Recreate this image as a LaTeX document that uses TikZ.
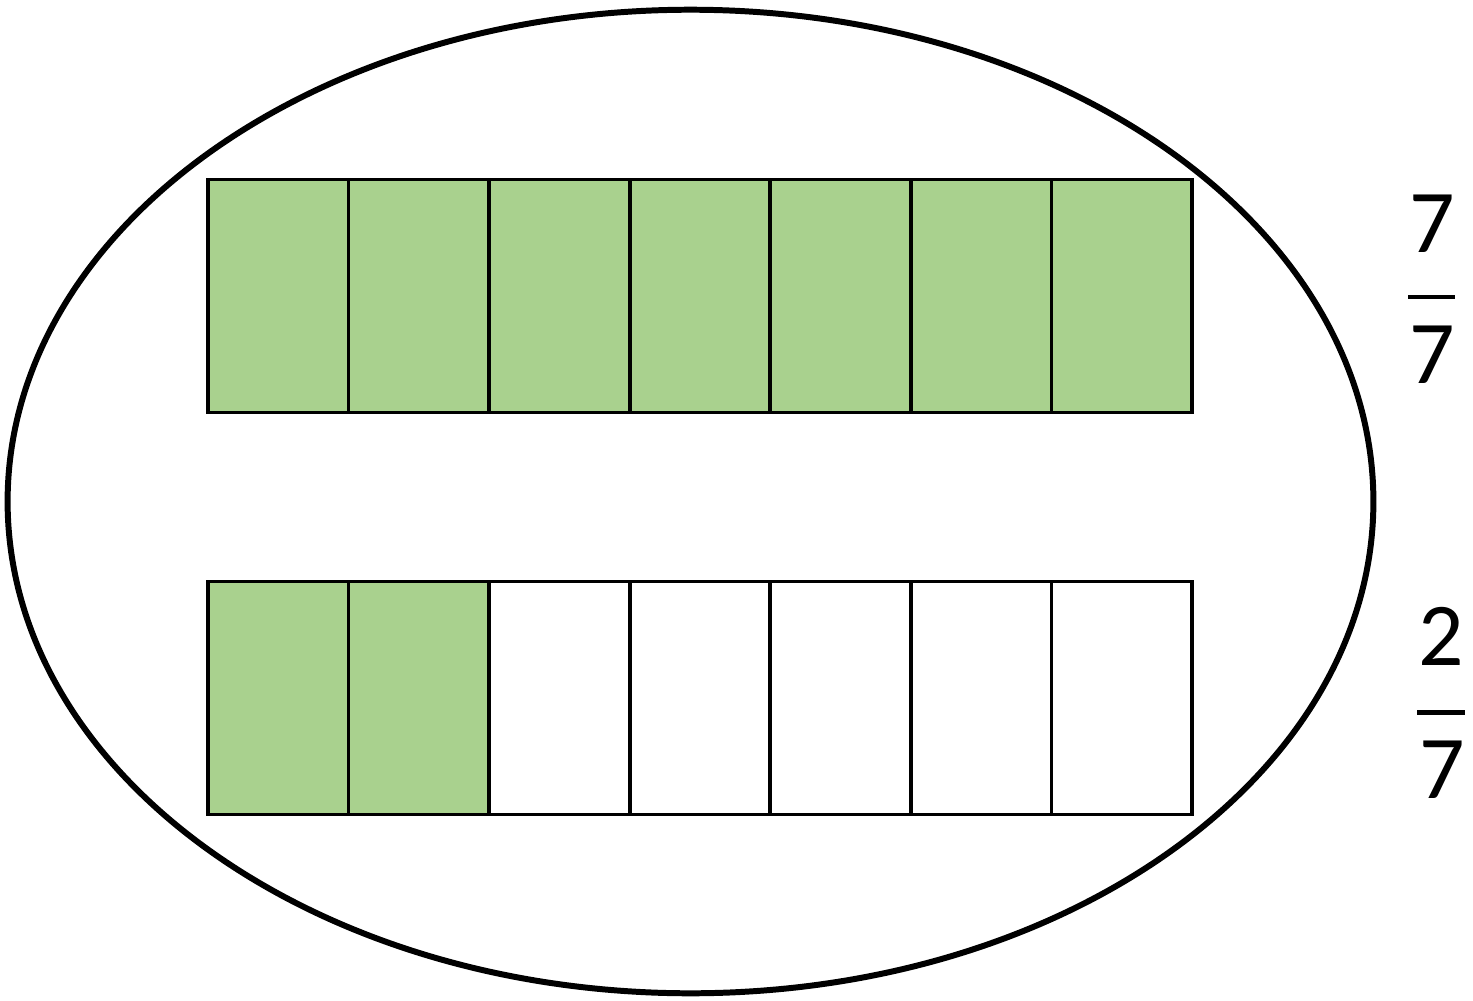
\documentclass[tikz,border=0pt]{standalone}
\usepackage{fontspec}
\setmainfont{Carlito}
\usepackage{tikz}
\usetikzlibrary{
  positioning,
  shapes.geometric
}
\definecolor{barfill}{RGB}{169,209,142}
\definecolor{inkline}{RGB}{0,0,0}
\tikzset{
  cell/.style={draw=inkline,line width=1.05pt,minimum width=1.4057cm,
    minimum height=2.33cm,inner sep=0pt,outer sep=0pt},
  digit/.style={inner sep=0pt,text depth=0pt,
    font=\fontsize{25.5}{30}\selectfont}
}
\newcommand{\fracbar}[3]{%
  \draw[inkline,line width=1.4pt] (#1,#3) -- (#2,#3);%
}

\begin{document}
\begin{tikzpicture}[x=0.01cm,y=-0.01cm]
  \useasboundingbox (0,0) rectangle (1473,1000);
  \draw[inkline,line width=1.7pt] (690.5,501.5) ellipse [x radius=6.825cm, y radius=4.915cm];
  % whole
  \foreach \i in {1,...,7} {
    \node[cell,fill=barfill] (t\i) at ({208+(\i-0.5)*140.57},296) {};
  }
  % part
  \foreach \i in {1,...,7} {
    \ifnum\i<3
      \node[cell,fill=barfill] (b\i) at ({208+(\i-0.5)*140.57},698) {};
    \else
      \node[cell,fill=white] (b\i) at ({208+(\i-0.5)*140.57},698) {};
    \fi
  }
  \node[digit] (numA) at (1432,223.5) {7};
  \node[digit] (denA) at (1432,355) {7};
  \fracbar{1408}{1455}{297}
  \node[digit] (numB) at (1441,636.5) {2};
  \node[digit] (denB) at (1442,769.5) {7};
  \fracbar{1417}{1465}{712.5}
\end{tikzpicture}
\end{document}
